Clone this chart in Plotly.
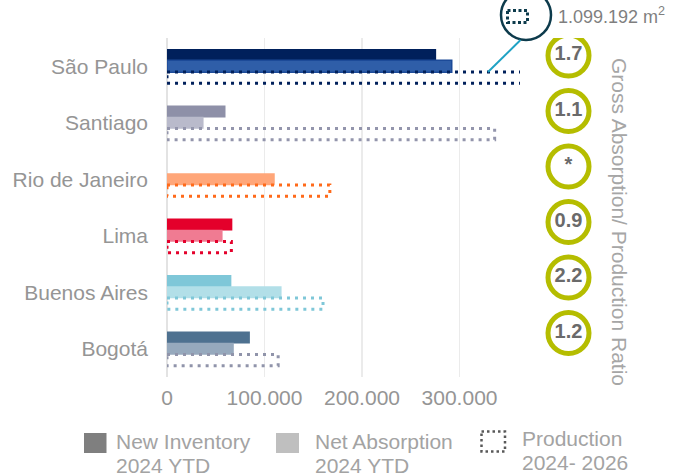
import plotly.graph_objects as go

# ---------------- data ----------------
cities = ["São Paulo", "Santiago", "Rio de Janeiro", "Lima", "Buenos Aires", "Bogotá"]
new_inventory = [276000, 60000, 0, 67000, 66000, 85000]
net_absorption = [292000, 37500, 110500, 57000, 117500, 68500]
production = [1099192, 336000, 167000, 66000, 160000, 114000]
ratio_labels = ["1.7", "1.1", "*", "0.9", "2.2", "1.2"]
x_ticks = [0, 100000, 200000, 300000]
x_tick_labels = ["0", "100.000", "200.000", "300.000"]
callout_label = "1.099.192 m<sup>2</sup>"
legend_lines = [("New Inventory", "2024 YTD"),
                ("Net Absorption", "2024 YTD"),
                ("Production", "2024- 2026")]

# styles
inv_colors = ["#00205B", "#8E90A8", "#FFA679", "#E4002B", "#7FC7D8", "#4E7190"]
abs_colors = ["#2F5EA8", "#B9BACB", "#FFA679", "#F07B92", "#B2DFE8", "#96A9BD"]
prod_colors = ["#00205B", "#9395AC", "#FF6A1A", "#E4002B", "#7FC7D8", "#9094AA"]

FONT = "Liberation Sans, Arial, sans-serif"
W, H = 683, 474
ML, MR, MT, MB = 10, 10, 38, 474 - 377
PW, PH = W - ML - MR, H - MT - MB


def px(X):
    """screen x -> paper fraction"""
    return (X - ML) / PW


def py(Y):
    """screen y -> paper fraction"""
    return 1 - (Y - MT) / PH


idx = list(range(len(cities)))
BW = 0.21

fig = go.Figure()

fig.add_trace(go.Bar(
    y=idx, x=new_inventory, orientation="h", width=BW, offset=-0.2 - BW / 2,
    marker=dict(color=inv_colors, line=dict(width=0)), showlegend=False,
))
fig.add_trace(go.Bar(
    y=idx, x=net_absorption, orientation="h", width=BW, offset=-BW / 2,
    marker=dict(color=abs_colors,
                line=dict(width=[1.5, 0, 0, 0, 0, 0], color="#1C4A98")),
    showlegend=False,
))

# production: dotted outline bars
for i, v in enumerate(production):
    y0, y1 = i + 0.2 - 0.1, i + 0.2 + 0.1
    fig.add_trace(go.Scatter(
        x=[0, v, v, 0, 0], y=[y0, y0, y1, y1, y0], mode="lines",
        line=dict(color=prod_colors[i], width=3, dash="3px,5px"),
        showlegend=False, hoverinfo="skip",
    ))

# ratio circles
fig.add_trace(go.Scatter(
    x=[0] * len(ratio_labels), y=idx, xaxis="x2", yaxis="y2",
    mode="markers+text", text=ratio_labels, textposition="middle center",
    textfont=dict(family=FONT, size=20, color="#6A6A6A", weight="bold"),
    marker=dict(size=41, color="white", line=dict(color="#B5BD00", width=5)),
    showlegend=False, hoverinfo="skip",
))

xs0, xs1 = px(167), px(520)
f2 = (568.5 - 520) / (PW * (1 - xs1))
fig.update_layout(
    width=W, height=H, margin=dict(l=ML, r=MR, t=MT, b=MB, autoexpand=False),
    paper_bgcolor="white", plot_bgcolor="white",
    barmode="overlay", hovermode=False, showlegend=False,
    font=dict(family=FONT),
    xaxis=dict(domain=[xs0, xs1], range=[0, 362000], tickvals=x_ticks,
               ticktext=x_tick_labels, showgrid=True, gridcolor="#EBEBEB",
               gridwidth=1.5, zeroline=True, zerolinecolor="#E3E3E3",
               zerolinewidth=1.5, ticks="", ticklabelstandoff=6,
               automargin=False, showline=False,
               tickfont=dict(size=21, color="#959595"), fixedrange=True),
    yaxis=dict(range=[5.5, -0.5], tickvals=idx, ticktext=cities, showgrid=False,
               zeroline=False, ticks="", ticklabelstandoff=18,
               automargin=False, showline=False,
               tickfont=dict(size=21, color="#959595"), fixedrange=True),
    xaxis2=dict(domain=[xs1, 1], range=[-f2, 1 - f2], anchor="y2",
                visible=False, fixedrange=True, automargin=False),
    yaxis2=dict(domain=[0, 1], range=[5.793, -0.315], anchor="x2",
                visible=False, fixedrange=True, automargin=False),
)

shapes = []
annotations = []

# callout circle with dotted icon and connector
shapes.append(dict(type="circle", xref="paper", yref="paper",
                   x0=px(501), x1=px(551), y0=py(-10), y1=py(40),
                   line=dict(color="#0D3B4C", width=2.5), fillcolor="white"))
shapes.append(dict(type="rect", xref="paper", yref="paper",
                   x0=px(507.5), x1=px(527.5), y0=py(10.5), y1=py(22.5),
                   line=dict(color="#0D3B4C", width=3, dash="3px,2.5px")))
shapes.append(dict(type="line", xref="paper", yref="paper",
                   x0=px(520.5), y0=py(40), x1=px(488), y1=py(72),
                   line=dict(color="#1FA2C4", width=2)))
annotations.append(dict(xref="paper", yref="paper", x=px(556), y=py(16),
                        xanchor="left", yanchor="middle", showarrow=False,
                        text=callout_label,
                        font=dict(size=18, color="#7F7F7F", family=FONT)))

# vertical axis title for ratios
annotations.append(dict(xref="paper", yref="paper", x=px(620), y=py(222),
                        xanchor="center", yanchor="middle", showarrow=False,
                        textangle=90, text="Gross Absorption/ Production Ratio",
                        font=dict(size=21, color="#A6A6A6", family=FONT)))

# legend
shapes.append(dict(type="rect", xref="paper", yref="paper",
                   x0=px(84), x1=px(106.5), y0=py(433), y1=py(453),
                   line=dict(width=0), fillcolor="#7F7F7F"))
shapes.append(dict(type="rect", xref="paper", yref="paper",
                   x0=px(276), x1=px(299), y0=py(433), y1=py(453),
                   line=dict(width=0), fillcolor="#BFBFBF"))
shapes.append(dict(type="rect", xref="paper", yref="paper",
                   x0=px(481.5), x1=px(505), y0=py(431.5), y1=py(451.5),
                   line=dict(color="#595959", width=2.5, dash="2.5px,3px")))
for (l1, l2), x0, y1c in zip(legend_lines, [114, 313, 520], [441, 441, 438]):
    for txt, yc in [(l1, y1c), (l2, y1c + 24)]:
        annotations.append(dict(xref="paper", yref="paper", x=px(x0), y=py(yc),
                                xanchor="left", yanchor="middle", align="left",
                                showarrow=False, text=txt,
                                font=dict(size=21, color="#A3A3A3", family=FONT)))

fig.update_layout(shapes=shapes, annotations=annotations)

# remove the default page margin so the 683x474 figure fills the window exactly
fig.write_html(
    "out.html",
    config={"displayModeBar": False, "staticPlot": True},
    post_script="document.body.style.margin='0';document.body.style.overflow='hidden';",
)
